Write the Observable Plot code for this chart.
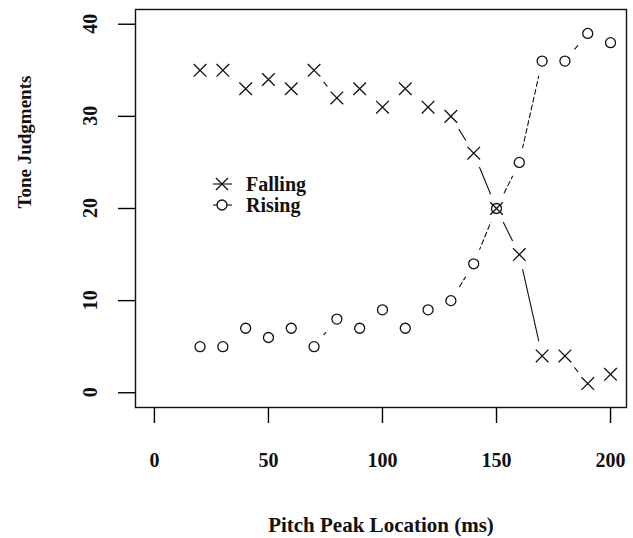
<!DOCTYPE html>
<html><head><meta charset="utf-8">
<script src="https://cdn.jsdelivr.net/npm/d3@7"></script>
<script src="https://cdn.jsdelivr.net/npm/@observablehq/plot@0.6"></script>
<style>body{margin:0;background:#fff} #chart{position:relative;width:633px;height:538px}</style>
</head><body><div id="chart"></div>
<script>
const pitchPeak = [20,30,40,50,60,70,80,90,100,110,120,130,140,150,160,170,180,190,200];
const falling = [35,35,33,34,33,35,32,33,31,33,31,30,26,20,15,4,4,1,2];
const rising  = [5,5,7,6,7,5,8,7,9,7,9,10,14,20,25,36,36,39,38];
const xTicks = [0,50,100,150,200];
const yTicks = [0,10,20,30,40];
const seriesNames = ["Falling","Rising"];
const xTitle = "Pitch Peak Location (ms)";
const yTitle = "Tone Judgments";

const xDomain = [-8.3, 207];
const yDomain = [-1.6, 41.6];
const fallingData = pitchPeak.map((x,i)=>({x, y: falling[i]}));
const risingData = pitchPeak.map((x,i)=>({x, y: rising[i]}));
const allData = fallingData.concat(risingData);
const font = "'Liberation Serif', 'Times New Roman', serif";

const plot = Plot.plot({
  width: 633, height: 538,
  marginLeft: 135, marginRight: 7, marginTop: 9, marginBottom: 131,
  x: {domain: xDomain},
  y: {domain: yDomain},
  style: {fontFamily: font, fontWeight: "bold", fontSize: "20px", background: "white", color: "black", overflow: "visible"},
  marks: [
    Plot.line(fallingData, {x: "x", y: "y", stroke: "#111", strokeWidth: 1.1}),
    Plot.line(risingData, {x: "x", y: "y", stroke: "#111", strokeWidth: 1.1, strokeDasharray: "5,3"}),
    Plot.dot(allData, {x: "x", y: "y", r: 15, fill: "white", stroke: "none"}),
    Plot.dot(fallingData, {x: "x", y: "y", symbol: "times", r: 5.8, stroke: "#111", strokeWidth: 1.3}),
    Plot.dot(risingData, {x: "x", y: "y", symbol: "circle", r: 5, stroke: "#111", strokeWidth: 1.3, fill: "none"}),
    Plot.frame({stroke: "#111", strokeWidth: 1.4}),
    Plot.axisX({ticks: xTicks, tickSize: 16, tickFormat: () => "", label: null, strokeWidth: 1.4}),
    Plot.axisY({ticks: yTicks, tickSize: 17, tickFormat: () => "", label: null, strokeWidth: 1.4}),
    Plot.text(xTicks, {x: d => d, y: () => yDomain[0], dy: 53, text: d => String(d), lineAnchor: "middle", fill: "#111"}),
    Plot.text([xTitle], {frameAnchor: "bottom", dy: 118, text: d => d, lineAnchor: "middle", fontSize: 21, fill: "#111"}),
    Plot.text([yTitle], {frameAnchor: "left", dx: -111, rotate: -90, text: d => d, lineAnchor: "middle", fontSize: 19, fill: "#111"})
  ]
});

const svg = d3.select(plot);
const yScale = plot.scale("y");
// y tick labels, rotated parallel to the axis (R default las = 0)
const yl = svg.append("g").attr("font-family", font).attr("font-weight", "bold").attr("font-size", 20).attr("fill", "#111");
yTicks.forEach(v => {
  yl.append("text")
    .attr("transform", `translate(90,${yScale.apply(v)}) rotate(-90)`)
    .attr("text-anchor", "middle")
    .attr("dy", "0.35em")
    .text(String(v));
});

// legend (R-style, inside plot area)
const lg = svg.append("g").attr("font-family", font).attr("font-weight", "bold").attr("font-size", 20).attr("fill", "#111").attr("text-anchor", "start");
const rows = [{name: seriesNames[0], sym: "times", y: 184}, {name: seriesNames[1], sym: "circle", y: 205}];
rows.forEach(r => {
  lg.append("line").attr("x1", 213).attr("x2", 232).attr("y1", r.y).attr("y2", r.y).attr("stroke", "#111").attr("stroke-width", 1.1);
  if (r.sym === "times") {
    lg.append("path").attr("d", `M${222-6},${r.y-6}L${222+6},${r.y+6}M${222-6},${r.y+6}L${222+6},${r.y-6}`).attr("stroke", "#111").attr("stroke-width", 1.3).attr("fill", "none");
  } else {
    lg.append("circle").attr("cx", 222).attr("cy", r.y).attr("r", 5).attr("stroke", "#111").attr("stroke-width", 1.3).attr("fill", "white");
  }
  lg.append("text").attr("x", 246).attr("y", r.y).attr("dy", "0.35em").attr("text-anchor", "start").text(r.name);
});

document.getElementById("chart").appendChild(plot);
</script>
</body></html>
